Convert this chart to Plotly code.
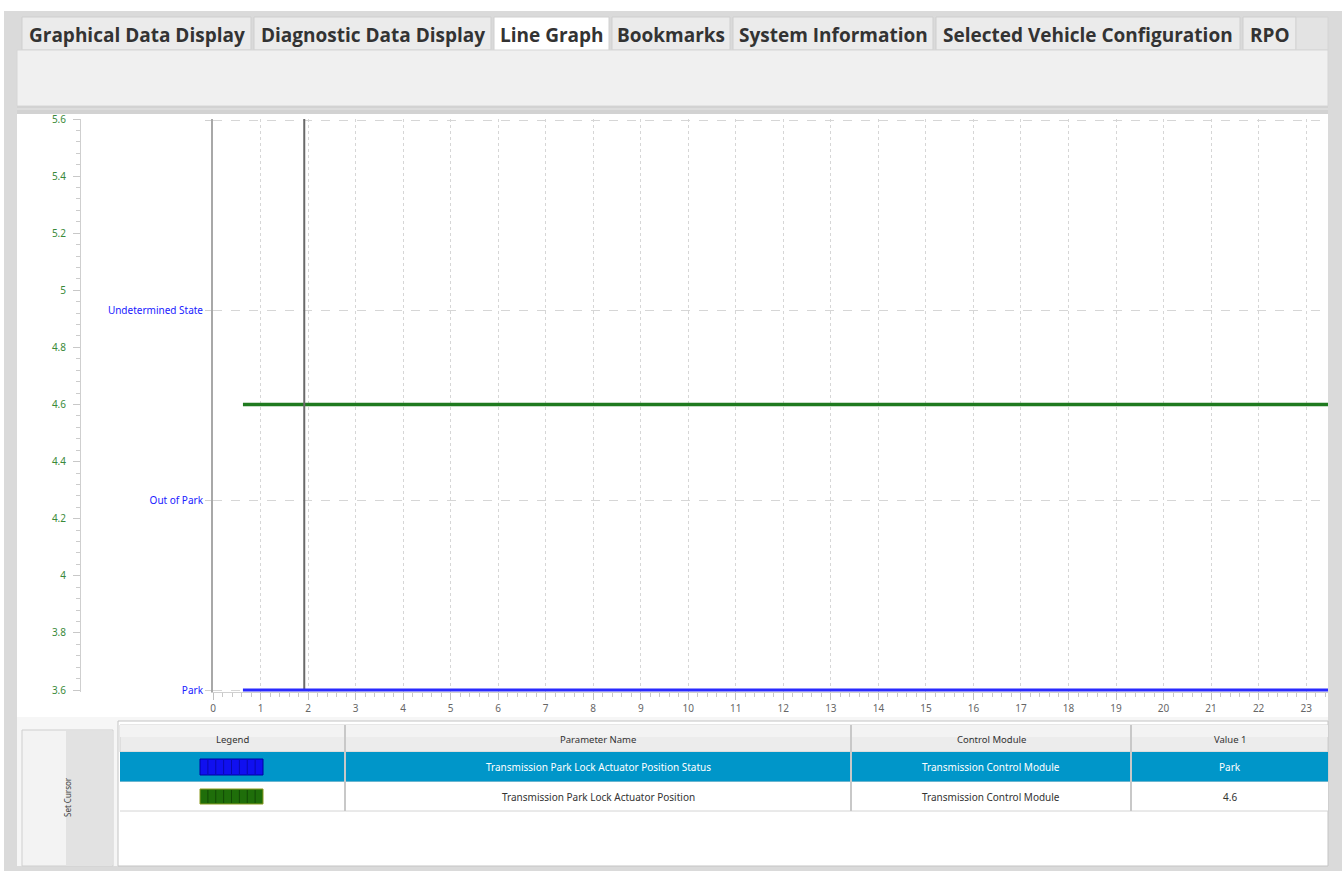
import plotly.graph_objects as go

# ---------------- data ----------------
tab_labels = ["Graphical Data Display", "Diagnostic Data Display", "Line Graph", "Bookmarks",
              "System Information", "Selected Vehicle Configuration", "RPO"]
active_tab = "Line Graph"

time_s = [0.63, 23.6]                       # sample times (s)
actuator_position = [4.6, 4.6]              # green series (numeric)
status_codes = [0, 0]                       # blue series (0 = Park)
status_levels = [0, 1, 2, 3]
status_labels = ["Park", "Out of Park", "Undetermined State", ""]
cursor_time = 1.92

green_tickvals = [3.6, 3.8, 4.0, 4.2, 4.4, 4.6, 4.8, 5.0, 5.2, 5.4, 5.6]
green_ticktext = ["3.6", "3.8", "4", "4.2", "4.4", "4.6", "4.8", "5", "5.2", "5.4", "5.6"]
x_tickvals = list(range(0, 24))
x_ticktext = [str(v) for v in x_tickvals]

table_headers = ["Legend", "Parameter Name", "Control Module", "Value 1"]
param_names = ["Transmission Park Lock Actuator Position Status", "Transmission Park Lock Actuator Position"]
modules = ["Transmission Control Module", "Transmission Control Module"]
values_1 = ["Park", "4.6"]
series_colors = ["#1010f0", "#1f6e0a"]
selected_row = 0

# ---------------- layout helpers (pixels -> paper) ----------------
W, H = 1342, 871
def X(p): return p / W
def Y(p): return 1 - p / H

shapes, annotations = [], []

def rect(x0, y0, x1, y1, fill, line=None, lw=1, layer="below"):
    shapes.append(dict(type="rect", xref="paper", yref="paper", x0=X(x0), x1=X(x1), y0=Y(y1), y1=Y(y0),
                       fillcolor=fill, line=dict(color=line or fill, width=lw if line else 0), layer=layer))

def hline(x0, x1, y, color, w=1, layer="below"):
    shapes.append(dict(type="line", xref="paper", yref="paper", x0=X(x0), x1=X(x1), y0=Y(y), y1=Y(y),
                       line=dict(color=color, width=w), layer=layer))

def vline(x, y0, y1, color, w=1, layer="below"):
    shapes.append(dict(type="line", xref="paper", yref="paper", x0=X(x), x1=X(x), y0=Y(y0), y1=Y(y1),
                       line=dict(color=color, width=w), layer=layer))

def text(x, y, s, size=10, color="#333", family="Noto Sans", xanchor="center", angle=0):
    annotations.append(dict(xref="paper", yref="paper", x=X(x), y=Y(y), text=s, showarrow=False,
                            xanchor=xanchor, yanchor="middle", textangle=angle,
                            font=dict(size=size, color=color, family=family)))

# outer frame
rect(4, 11, 1342, 871, "#dadada")
# tabs
tab_x = [(22, 251), (254, 491), (494, 609), (612, 730), (733, 933), (936, 1240), (1243, 1296)]
for (x0, x1), lab in zip(tab_x, tab_labels):
    if lab == active_tab:
        rect(x0, 17, x1, 51, "#ffffff", "#d0d0d0")
    else:
        rect(x0, 17, x1, 50, "#ebebeb", "#cfcfcf")
    text((x0 + x1) / 2, 35, "<b>%s</b>" % lab, size=19, color="#333333", family="Open Sans")
rect(1296, 17, 1328, 50, "#e3e3e3", "#d4d4d4")
# toolbar
rect(17, 50, 1328, 106, "#f0f0f0", "#d6d6d6")
rect(17, 106, 1328, 114, "#d2d2d2")
hline(17, 1328, 109, "#e6e6e6", 1)
# plot panel
rect(17, 114, 1328, 717, "#ffffff")
# bottom panel
rect(17, 717, 1328, 866, "#f6f6f6")
# set cursor tab
rect(22, 730, 113, 866, "#f3f3f3", "#cfcfcf")
rect(66, 731, 112, 866, "#e2e2e2")
text(67, 797, "Set Cursor", size=8, color="#444", angle=-90)
# table
rect(118, 721, 1328, 866, "#ffffff", "#c4c4c4")
col_x = [120, 345, 851, 1131, 1328]
rect(120, 725, 1328, 752, "#ececec", "#cfcfcf")
rect(120, 725, 1328, 737, "#f3f3f3")
for i, h in enumerate(table_headers):
    text((col_x[i] + col_x[i + 1]) / 2, 739, h, size=9.5, color="#333")
row_y = [(752, 782), (782, 811)]
for r in range(len(param_names)):
    y0, y1 = row_y[r]
    sel = (r == selected_row)
    rect(120, y0, 1328, y1, "#0096c9" if sel else "#ffffff")
    hline(120, 1328, y1, "#d4d4d4", 1)
    tc = "#ffffff" if sel else "#333333"
    cells = [param_names[r], modules[r], values_1[r]]
    for c, s in enumerate(cells):
        text((col_x[c + 1] + col_x[c + 2]) / 2, (y0 + y1) / 2, s, size=10, color=tc)
    # legend swatch
    sy0, sy1 = y0 + 7, y1 - 7
    rect(200, sy0, 263, sy1, series_colors[r], "#0000a0" if r == 0 else "#8a9a20", 1)
    for k in range(1, 8):
        vline(200 + k * 63 / 8, sy0 + 1, sy1 - 1, "rgba(0,0,90,0.55)" if r == 0 else "rgba(5,35,0,0.6)", 0.8)
for cx in col_x[1:4]:
    vline(cx, 725, 811, "#c8c8c8", 2)

# ---------------- traces ----------------
fig = go.Figure()
fig.add_trace(go.Scatter(x=time_s, y=actuator_position, mode="lines", yaxis="y",
                         line=dict(color="#1f7a1f", width=3.5), showlegend=False, hoverinfo="skip"))
fig.add_trace(go.Scatter(x=time_s, y=status_codes, mode="lines", yaxis="y2",
                         line=dict(color="#2a2aff", width=3), showlegend=False, hoverinfo="skip"))
fig.add_trace(go.Scatter(x=[cursor_time, cursor_time], y=[green_tickvals[0], green_tickvals[-1]],
                         mode="lines", yaxis="y", line=dict(color="#6a6a6a", width=2),
                         showlegend=False, hoverinfo="skip"))

dom_y = [Y(692), Y(119)]
fig.update_layout(
    width=W, height=H, margin=dict(l=0, r=0, t=0, b=0, pad=0, autoexpand=False),
    paper_bgcolor="#ffffff", plot_bgcolor="rgba(0,0,0,0)",
    shapes=shapes, annotations=annotations, showlegend=False,
    font=dict(family="Noto Sans"),
    xaxis=dict(domain=[X(213), X(1328)], range=[0, 23.46], anchor="y2", automargin=False,
               tickmode="array", tickvals=x_tickvals, ticktext=x_ticktext,
               tickfont=dict(size=10, color="#666"), ticks="outside", ticklen=7, tickcolor="#c0c0c0",
               minor=dict(dtick=0.2, tick0=0, ticks="outside", ticklen=4, tickcolor="#c8c8c8", showgrid=False),
               showgrid=True, gridcolor="#d6d6d6", griddash="dot", gridwidth=1,
               showline=True, linecolor="#d0d0d0", zeroline=False),
    yaxis=dict(domain=dom_y, range=[3.593, 5.6], anchor="free", position=X(80), automargin=False,
               tickmode="array", tickvals=green_tickvals, ticktext=green_ticktext,
               tickfont=dict(size=10, color="#3a8a3a"), ticks="outside", ticklen=7, tickcolor="#c8c8c8",
               ticklabelstandoff=5,
               minor=dict(dtick=0.04, tick0=3.6, ticks="outside", ticklen=4, tickcolor="#cccccc", showgrid=False),
               showgrid=False, showline=True, linecolor="#cfcfcf", zeroline=False),
    yaxis2=dict(domain=dom_y, range=[-0.0105, 3.01], overlaying="y", anchor="x", side="left", automargin=False,
                tickmode="array", tickvals=status_levels, ticktext=status_labels,
                tickfont=dict(size=10, color="#2020ff"), ticks="outside", ticklen=6, tickcolor="#d0d0d0",
                showgrid=True, gridcolor="#d6d6d6", griddash="dash", gridwidth=1,
                showline=True, linecolor="#a8a8a8", linewidth=2, zeroline=False),
)

fig.write_html("out.html", config={"displayModeBar": False},
               post_script="document.body.style.margin='0px';document.body.style.overflow='hidden';")
